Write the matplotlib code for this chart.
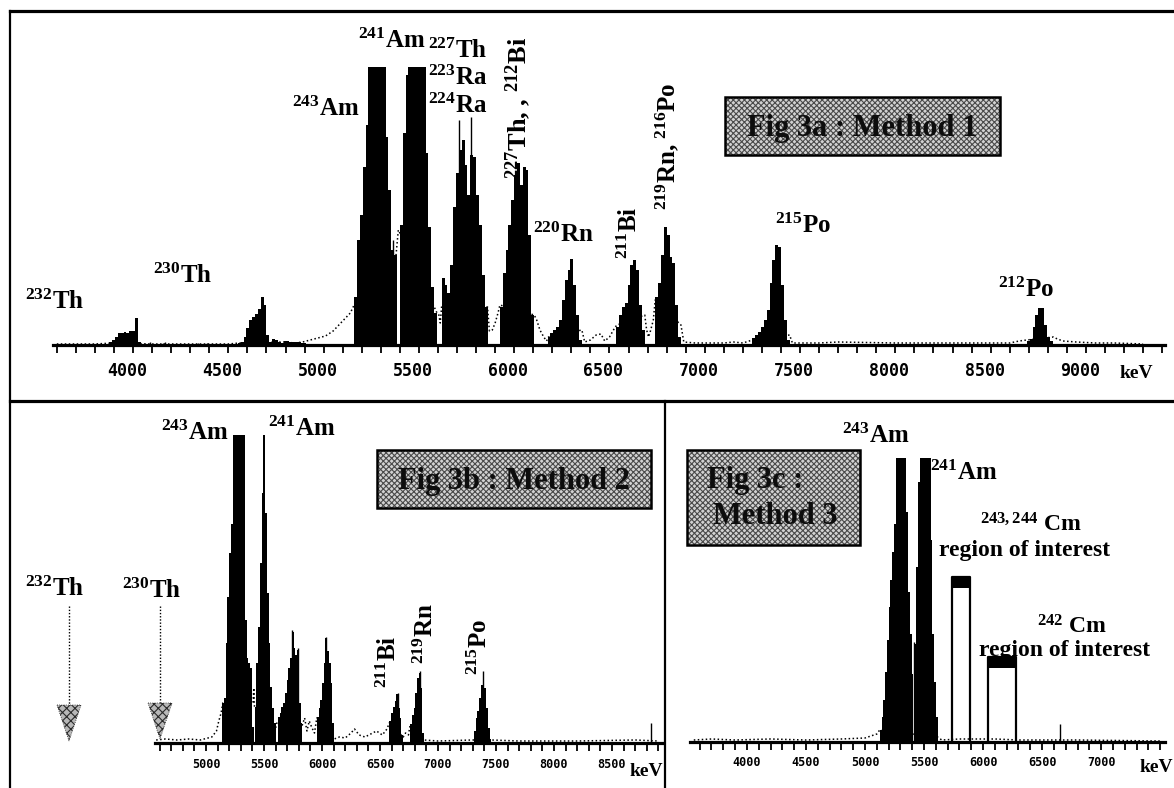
import matplotlib.pyplot as plt
import numpy as np
from matplotlib.patches import Rectangle, Polygon
from matplotlib.transforms import ScaledTranslation

plt.rcParams['font.family'] = ['Liberation Serif', 'DejaVu Serif']
plt.rcParams['font.weight'] = 'bold'
plt.rcParams['mathtext.fontset'] = 'custom'
plt.rcParams['mathtext.rm'] = 'Liberation Serif:bold'
plt.rcParams['mathtext.it'] = 'Liberation Serif:bold'
plt.rcParams['mathtext.bf'] = 'Liberation Serif:bold'
plt.rcParams['hatch.linewidth'] = 0.8

W, H = 1174, 788
BW = 15  # keV per channel group

# ---------------- Fig 3a : Method 1 ----------------
a_th232 = [3, 5, 8, 12, 12, 13, 12, 14, 14, 27, 3]
a_th230 = [2, 3, 8, 17, 25, 28, 31, 36, 48, 40, 10, 3, 6, 5, 3, 2, 4, 4, 3, 3, 3, 3, 2, 2]
a_am243 = [48, 105, 130, 178, 220, 300, 300, 300, 300, 300, 300, 208, 155, 95, 90]
a_am241 = [120, 212, 270, 300, 300, 300, 300, 300, 300, 192, 118, 58, 32]
a_ra = [67, 60, 52, 80, 138, 172, 195, 205, 180, 150, 190, 188, 150, 120, 70, 38]
a_bi212 = [38, 72, 95, 120, 145, 170, 182, 160, 178, 175, 110, 30]
a_rn220 = [8, 12, 15, 18, 25, 45, 65, 75, 86, 60, 30, 5]
a_bi211 = [18, 30, 38, 42, 60, 80, 85, 75, 40, 15]
a_rn219 = [48, 62, 90, 118, 110, 88, 82, 40, 8]
a_po215 = [7, 10, 13, 18, 25, 35, 62, 85, 100, 98, 60, 25, 5]
a_po212 = [4, 6, 18, 30, 37, 37, 20, 8, 4]
a_start = [3875, 4550, 5160, 5400, 5620, 5925, 6175, 6535, 6740, 7250, 8690]
a_spike_e = [4090, 4155, 4170, 4340, 4390, 5365, 5713, 5773]
a_spike_c = [3, 2, 3, 2, 2, 105, 225, 228]
a_dot_e = [3600, 3800, 3900, 4100, 4300, 4500, 4560, 4790, 4850, 4890, 4930, 4970,
           5010, 5050, 5080, 5110, 5140, 5160, 5380, 5392, 5405, 5595, 5605, 5612,
           5620, 5860, 5870, 5885, 5900, 5915, 5925, 6105, 6118, 6135, 6155, 6170,
           6180, 6355, 6370, 6400, 6430, 6455, 6475, 6500, 6530, 6540, 6685, 6695,
           6705, 6715, 6730, 6740, 6875, 6890, 6950, 7100, 7150, 7200, 7250, 7445,
           7460, 7600, 7700, 8000, 8600, 8650, 8690, 8830, 8850, 8880, 8950, 9050,
           9150, 9300]
a_dot_c = [1, 1, 2, 1, 1, 1, 2, 3, 2, 3, 5, 7,
           9, 14, 20, 26, 32, 40, 90, 115, 110, 32, 30, 22,
           40, 38, 14, 15, 22, 32, 40, 30, 25, 15, 8, 4,
           8, 15, 3, 5, 10, 11, 4, 8, 18, 20, 30, 15,
           8, 14, 25, 45, 20, 3, 2, 2, 3, 2, 5, 10,
           2, 2, 3, 2, 2, 4, 5, 8, 6, 4, 3, 2,
           2, 1]
a_ticks = [4000, 4500, 5000, 5500, 6000, 6500, 7000, 7500, 8000, 8500, 9000]

# ---------------- Fig 3b : Method 2 ----------------
b_am243 = [40, 45, 100, 146, 190, 219, 330, 330, 330, 330, 330, 330, 330, 123, 85, 80, 75, 16]
b_am241 = [36, 80, 116, 180, 250, 330, 230, 150, 100, 56, 35, 20]
b_ra = [26, 30, 36, 40, 50, 63, 75, 85, 111, 95, 88, 93, 40, 20]
b_bi212 = [26, 35, 43, 60, 80, 105, 92, 80, 60, 20]
b_bi211 = [22, 30, 36, 42, 49, 35, 25, 8]
b_rn219 = [19, 28, 35, 50, 65, 70, 55, 10]
b_po215 = [12, 25, 32, 45, 58, 70, 55, 35, 15, 4]
b_start = [5140, 5420, 5620, 5955, 6580, 6760, 7310]
b_spike_e = [5745, 5790, 6035, 6655, 6845, 7390, 8836]
b_spike_c = [113, 95, 106, 50, 72, 72, 20]
b_dot_e = [4570, 4650, 4750, 4850, 4950, 5050, 5090, 5110, 5130, 5145, 5405, 5412,
           5418, 5600, 5615, 5830, 5850, 5870, 5890, 5910, 5935, 5955, 6105, 6150,
           6200, 6250, 6280, 6320, 6370, 6420, 6470, 6520, 6560, 6580, 6700, 6720,
           6745, 6760, 6880, 7000, 7300, 7460, 7700, 8200, 8700, 8900]
b_dot_c = [3, 4, 3, 4, 3, 6, 12, 22, 30, 40, 40, 55,
           36, 15, 22, 18, 25, 12, 22, 16, 10, 25, 4, 6,
           5, 10, 14, 8, 6, 9, 12, 8, 14, 20, 6, 10,
           8, 18, 3, 2, 3, 3, 2, 2, 3, 2]
b_ticks = [5000, 5500, 6000, 6500, 7000, 7500, 8000, 8500]

# ---------------- Fig 3c : Method 3 ----------------
c_am243 = [12, 25, 42, 70, 102, 135, 162, 190, 218, 300, 300, 300, 300, 300, 300, 230, 150, 108, 68]
c_am241 = [98, 175, 260, 300, 300, 300, 300, 300, 300, 202, 108, 60, 25]
c_start = [5125, 5420]
c_spike_e = [5414, 6652]
c_spike_c = [100, 18]
c_dot_e = [3550, 3700, 3900, 4200, 4500, 4800, 5000, 5100, 5125, 5615, 5650, 5800, 6100, 6300, 6800, 7500]
c_dot_c = [2, 3, 2, 3, 2, 3, 4, 8, 12, 5, 2, 3, 3, 2, 2, 1]
c_roi_lo = [5737, 6042]
c_roi_hi = [5890, 6279]
c_roi_top = [165, 85]
c_ticks = [4000, 4500, 5000, 5500, 6000, 6500, 7000]


def px_axes(fig, x0, x1, base, top):
    return fig.add_axes([x0 / W, (H - base) / H, (x1 - x0) / W, (base - top) / H])


def setup(ax, lo, hi, top, majors, size, pad, shift):
    ax.set_xlim(lo, hi)
    ax.set_ylim(0, top)
    ax.patch.set_alpha(0)
    for s in ['left', 'right', 'top']:
        ax.spines[s].set_visible(False)
    ax.spines['bottom'].set_linewidth(2.3)
    ax.set_yticks([])
    ax.set_xticks(majors)
    ax.set_xticks(np.arange(np.ceil(lo / 100) * 100, hi, 100), minor=True)
    ax.set_xticklabels([str(t) for t in majors], fontfamily='DejaVu Sans Mono',
                       fontweight='bold', fontsize=size)
    ax.tick_params(axis='x', which='both', direction='out', length=6, width=1.3, pad=pad)
    off = ScaledTranslation(shift / 100, 0, ax.figure.dpi_scale_trans)
    for lab in ax.get_xticklabels():
        lab.set_transform(lab.get_transform() + off)


def draw(ax, starts, peaks, spike_e, spike_c, dot_e, dot_c):
    ax.plot(dot_e, dot_c, color='black', lw=1.1, ls=(0, (1, 1.6)), zorder=1)
    for start, counts in zip(starts, peaks):
        edges = start + BW * np.arange(len(counts) + 1)
        ax.stairs(counts, edges, fill=True, color='black', lw=0, zorder=2)
    ax.vlines(spike_e, 0, spike_c, color='black', lw=1, zorder=2)


fig = plt.figure(figsize=(W / 100, H / 100), dpi=100)

ax_a = px_axes(fig, 53, 1165, 345, 67)
draw(ax_a, a_start, [a_th232, a_th230, a_am243, a_am241, a_ra, a_bi212, a_rn220,
                     a_bi211, a_rn219, a_po215, a_po212],
     a_spike_e, a_spike_c, a_dot_e, a_dot_c)
setup(ax_a, 3580, 9415, 278, a_ticks, 12, 6.5, -6)

ax_b = px_axes(fig, 155, 663, 743, 435)
draw(ax_b, b_start, [b_am243, b_am241, b_ra, b_bi212, b_bi211, b_rn219, b_po215],
     b_spike_e, b_spike_c, b_dot_e, b_dot_c)
setup(ax_b, 4560, 8940, 308, b_ticks, 8.5, 5, 0)

ax_c = px_axes(fig, 690, 1165, 742, 458)
draw(ax_c, c_start, [c_am243, c_am241], c_spike_e, c_spike_c, c_dot_e, c_dot_c)
for lo, hi, top in zip(c_roi_lo, c_roi_hi, c_roi_top):
    ax_c.plot([lo, lo, hi, hi], [0, top, top, 0], color='black', lw=1.6, zorder=3)
    ax_c.bar(lo - 6, 11, bottom=top - 11, width=hi - lo + 14, align='edge',
             color='black', zorder=3)
setup(ax_c, 3518, 7541, 284, c_ticks, 8.5, 3.8, 0)

# overlay in pixel coordinates for frames, boxes and labels
ov = fig.add_axes([0, 0, 1, 1], zorder=5)
ov.set_xlim(0, W)
ov.set_ylim(H, 0)
ov.axis('off')
ov.patch.set_alpha(0)

ov.plot([10, W], [11, 11], color='black', lw=2.3)
ov.plot([10, 10], [11, H], color='black', lw=1.6)
ov.plot([10, W], [401, 401], color='black', lw=2.3)
ov.plot([665, 665], [401, H], color='black', lw=1.6)


def fig_box(x0, y0, x1, y1):
    ov.add_patch(Rectangle((x0, y0), x1 - x0, y1 - y0, facecolor='#d2d2d2',
                           edgecolor='#4a4a4a', hatch='xxxxxx', lw=0))
    ov.add_patch(Rectangle((x0, y0), x1 - x0, y1 - y0, fill=False,
                           edgecolor='black', lw=1.8))


fig_box(725, 97, 1000, 155)
ov.text(862, 128, 'Fig 3a : Method 1', ha='center', va='center', fontsize=22, color='#0d0d0d')
fig_box(377, 450, 651, 508)
ov.text(514, 481, 'Fig 3b : Method 2', ha='center', va='center', fontsize=22, color='#0d0d0d')
fig_box(687, 450, 860, 545)
ov.text(707, 488, 'Fig 3c :', ha='left', va='baseline', fontsize=22, color='#0d0d0d')
ov.text(713, 524, 'Method 3', ha='left', va='baseline', fontsize=22, color='#0d0d0d')

fs = 18
# Fig 3a labels
ov.text(25, 309, r'$^{232}$Th', fontsize=fs, va='baseline')
ov.text(153, 283, r'$^{230}$Th', fontsize=fs, va='baseline')
ov.text(292, 116, r'$^{243}$Am', fontsize=fs, va='baseline')
ov.text(358, 48, r'$^{241}$Am', fontsize=fs, va='baseline')
ov.text(428, 58, r'$^{227}$Th', fontsize=fs, va='baseline')
ov.text(428, 85, r'$^{223}$Ra', fontsize=fs, va='baseline')
ov.text(428, 113, r'$^{224}$Ra', fontsize=fs, va='baseline')
ov.text(518, 108, r'$^{227}$Th, , $^{212}$Bi', fontsize=19, rotation=90, ha='center', va='center')
ov.text(533, 242, r'$^{220}$Rn', fontsize=fs, va='baseline')
ov.text(630, 233, r'$^{211}$Bi', fontsize=fs, rotation=90, ha='center', va='center')
ov.text(667, 146, r'$^{219}$Rn, $^{216}$Po', fontsize=fs, rotation=90, ha='center', va='center')
ov.text(775, 233, r'$^{215}$Po', fontsize=fs, va='baseline')
ov.text(998, 297, r'$^{212}$Po', fontsize=fs, va='baseline')
ov.text(1120, 378, 'keV', fontsize=14, va='baseline')

# Fig 3b labels
ov.text(161, 440, r'$^{243}$Am', fontsize=fs, va='baseline')
ov.text(268, 436, r'$^{241}$Am', fontsize=fs, va='baseline')
ov.text(25, 596, r'$^{232}$Th', fontsize=fs, va='baseline')
ov.text(122, 598, r'$^{230}$Th', fontsize=fs, va='baseline')
for xa, ytop, ytri in [(69, 606, 705), (160, 606, 703)]:
    ov.plot([xa, xa], [ytop, ytri], color='black', lw=1.0, ls=(0, (1, 1.3)))
    ov.add_patch(Polygon([(xa - 12, ytri), (xa + 12, ytri), (xa, ytri + 36)],
                         facecolor='#b8b8b8', edgecolor='#2a2a2a', hatch='xxxx', lw=0.6,
                         ls=':'))
ov.text(389, 662, r'$^{211}$Bi', fontsize=fs, rotation=90, ha='center', va='center')
ov.text(426, 634, r'$^{219}$Rn', fontsize=fs, rotation=90, ha='center', va='center')
ov.text(480, 647, r'$^{215}$Po', fontsize=fs, rotation=90, ha='center', va='center')
ov.text(630, 776, 'keV', fontsize=14, va='baseline')

# Fig 3c labels
ov.text(842, 443, r'$^{243}$Am', fontsize=fs, va='baseline')
ov.text(930, 480, r'$^{241}$Am', fontsize=fs, va='baseline')
ov.text(980, 532, r'$^{243,244}$ Cm', fontsize=17, va='baseline')
ov.text(939, 556, 'region of interest', fontsize=17, va='baseline')
ov.text(1037, 633, r'$^{242}$ Cm', fontsize=17, va='baseline')
ov.text(979, 656, 'region of interest', fontsize=17, va='baseline')
ov.text(1140, 772, 'keV', fontsize=14, va='baseline')

fig.savefig('out.png', dpi=100)
